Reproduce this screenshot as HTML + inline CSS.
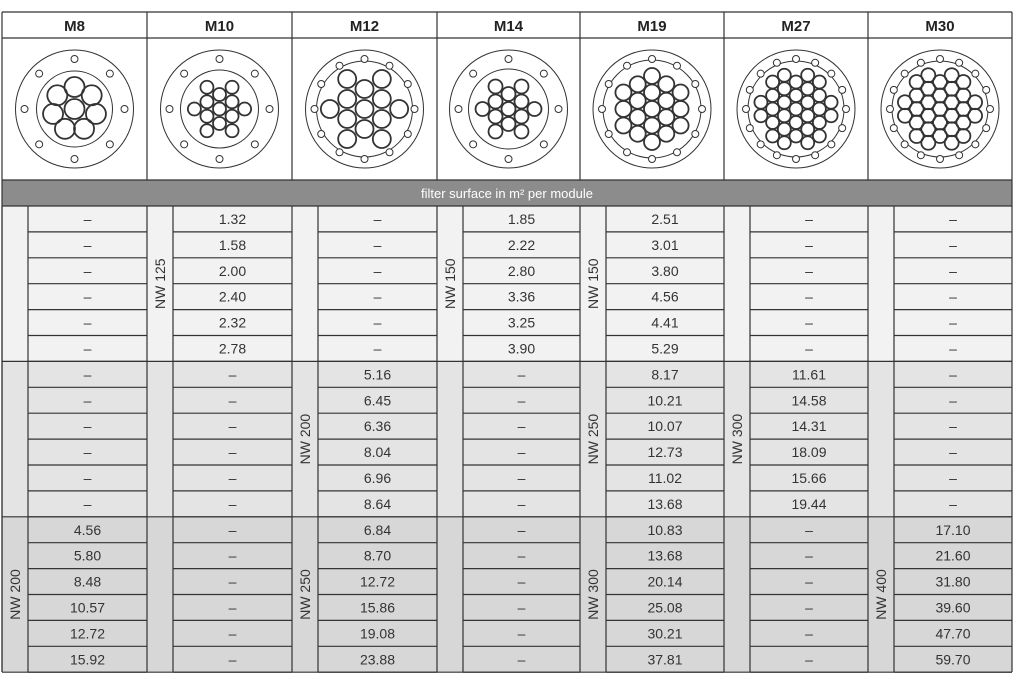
<!DOCTYPE html>
<html><head><meta charset="utf-8"><style>
html,body{margin:0;padding:0;background:#fff;}
svg{display:block;font-family:"Liberation Sans",sans-serif;}
</style></head><body>
<svg id="s" width="1024" height="680" xmlns="http://www.w3.org/2000/svg"></svg>
<script>
const s=document.getElementById('s');
let h='';
const X=[2,147,292,437,580,724,868,1012];
const names=['M8','M10','M12','M14','M19','M27','M30'];
const D='–';
const d6=[D,D,D,D,D,D];
const data=[
 [d6,d6,['4.56','5.80','8.48','10.57','12.72','15.92']],
 [['1.32','1.58','2.00','2.40','2.32','2.78'],d6,d6],
 [d6,['5.16','6.45','6.36','8.04','6.96','8.64'],['6.84','8.70','12.72','15.86','19.08','23.88']],
 [['1.85','2.22','2.80','3.36','3.25','3.90'],d6,d6],
 [['2.51','3.01','3.80','4.56','4.41','5.29'],['8.17','10.21','10.07','12.73','11.02','13.68'],['10.83','13.68','20.14','25.08','30.21','37.81']],
 [d6,['11.61','14.58','14.31','18.09','15.66','19.44'],d6],
 [d6,d6,['17.10','21.60','31.80','39.60','47.70','59.70']]
];
const labels=[[null,null,'NW 200'],['NW 125',null,null],[null,'NW 200','NW 250'],['NW 150',null,null],['NW 150','NW 250','NW 300'],[null,'NW 300',null],[null,null,'NW 400']];
const bg=['#f2f2f2','#e4e4e4','#d7d7d7'];
const Y0=206,RH=25.9,LW=26;
for(let g=0;g<3;g++)h+=`<rect x="2" y="${Y0+g*6*RH}" width="1010" height="${6*RH}" fill="${bg[g]}"/>`;
h+=`<rect x="2" y="180" width="1010" height="26" fill="#8c8c8c"/>`;
h+=`<text x="507" y="198" fill="#fff" font-size="13" text-anchor="middle">filter surface in m² per module</text>`;
for(let c=0;c<7;c++){
 const cx=(X[c]+X[c+1])/2;
 h+=`<text x="${cx}" y="31" font-size="15" font-weight="bold" fill="#222" text-anchor="middle">${names[c]}</text>`;
}
const L='stroke="#333" stroke-width="1.2"';
h+=`<line x1="2" y1="12" x2="1012" y2="12" ${L}/><line x1="2" y1="38" x2="1012" y2="38" ${L}/><line x1="2" y1="180" x2="1012" y2="180" ${L}/><line x1="2" y1="206" x2="1012" y2="206" ${L}/>`;
for(let c=0;c<8;c++){h+=`<line x1="${X[c]}" y1="12" x2="${X[c]}" y2="180" ${L}/>`;}
h+=`<line x1="2" y1="180" x2="2" y2="672" ${L}/><line x1="1012" y1="180" x2="1012" y2="672" ${L}/>`;
for(let c=0;c<7;c++){
 const x0=X[c],x1=X[c]+LW,x2=X[c+1];
 h+=`<line x1="${x0}" y1="206" x2="${x0}" y2="672" ${L}/><line x1="${x1}" y1="206" x2="${x1}" y2="672" ${L}/>`;
 for(let g=0;g<3;g++){
  for(let r=0;r<6;r++){
   const y=Y0+(g*6+r)*RH;
   h+=`<line x1="${x1}" y1="${y+RH}" x2="${x2}" y2="${y+RH}" ${L}/>`;
   h+=`<text x="${(x1+x2)/2}" y="${y+18}" font-size="14" fill="#333" text-anchor="middle">${data[c][g][r]}</text>`;
  }
  const lb=labels[c][g];
  if(lb){const cy=Y0+(g*6+3)*RH;h+=`<text x="0" y="0" font-size="14" fill="#333" text-anchor="middle" transform="translate(${x0+18},${cy}) rotate(-90)">${lb}</text>`;}
 }
}
for(let g=1;g<=3;g++){const y=Y0+g*6*RH;h+=`<line x1="2" y1="${y}" x2="1012" y2="${y}" ${L}/>`;}
const cfg=[
 {b:8,tr:10,custom:'m8'},
 {b:8,tr:6.5,d:14.5,R:33},
 {b:12,tr:9,d:20,R:42},
 {b:8,tr:7,d:15,R:34},
 {b:12,tr:8,d:16.5,R:43},
 {b:16,tr:6.5,d:13.5,R:42},
 {b:16,tr:7,d:13.5,R:42}
];
const CY=109;
for(let c=0;c<7;c++){
 const cx=(X[c]+X[c+1])/2,k=cfg[c];
 h+=`<circle cx="${cx}" cy="${CY}" r="59" fill="none" stroke="#333" stroke-width="1"/>`;
 h+=`<circle cx="${cx}" cy="${CY}" r="${k.custom?38:(k.R+6)}" fill="none" stroke="#333" stroke-width="1"/>`;
 for(let i=0;i<k.b;i++){const a=i*2*Math.PI/k.b-Math.PI/2;h+=`<circle cx="${cx+50*Math.cos(a)}" cy="${CY+50*Math.sin(a)}" r="3.5" fill="#fff" stroke="#333" stroke-width="1"/>`;}
 let pts=[];
 if(k.custom){pts.push([0,0]);for(let i=0;i<7;i++){const a=i*2*Math.PI/7-Math.PI/2;pts.push([22*Math.cos(a),22*Math.sin(a)]);}}
 else{
  const d=k.d;
  for(let j=-6;j<=6;j++)for(let i=-6;i<=6;i++){
   const x=(i+(j%2?0.5:0))*d,y=j*d*0.866;
   if(Math.hypot(x,y)+k.tr<=k.R+2)pts.push([y,x]);
  }
 }
 for(const p of pts)h+=`<circle cx="${cx+p[0]}" cy="${CY+p[1]}" r="${k.tr}" fill="none" stroke="#333" stroke-width="1.8"/>`;
}
s.innerHTML=h;
</script>
</body></html>
